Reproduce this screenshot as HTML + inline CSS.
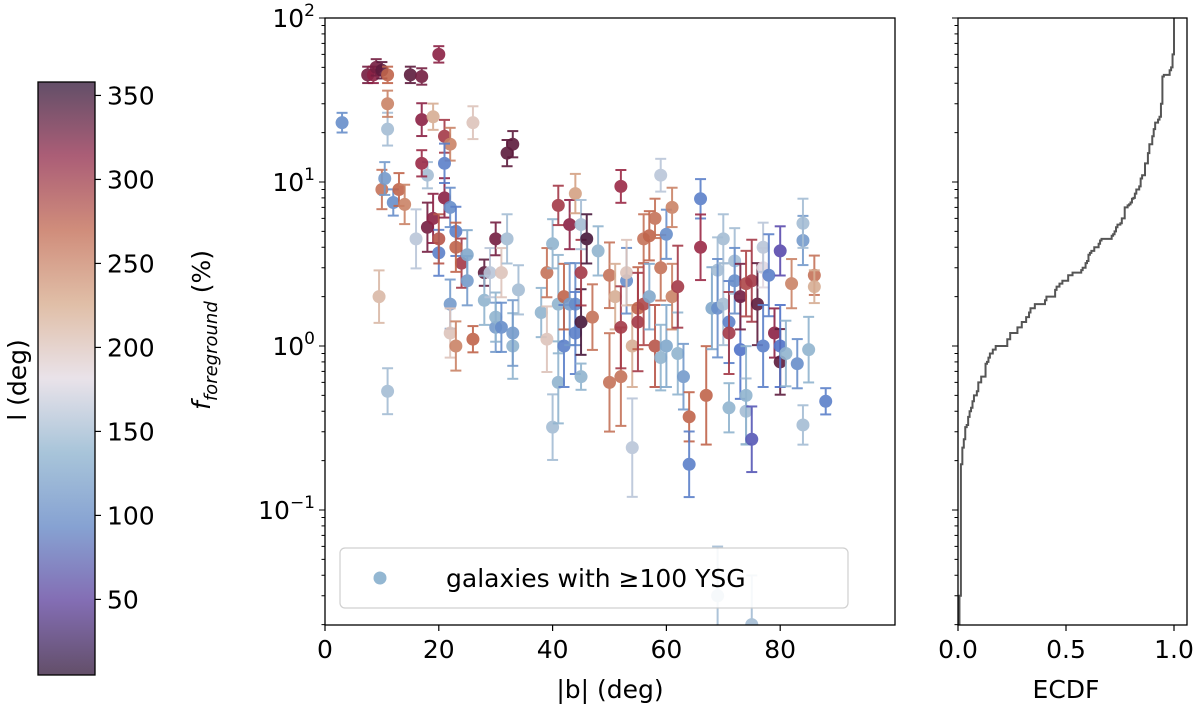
<!DOCTYPE html>
<html><head><meta charset="utf-8">
<style>
html,body{margin:0;padding:0;background:#fff;}
svg{display:block;font-family:"DejaVu Sans","Liberation Sans",sans-serif;}
</style></head>
<body>
<svg id="chart" width="1200" height="715" viewBox="0 0 1200 715" xmlns="http://www.w3.org/2000/svg">
<defs>
<linearGradient id="cbgrad" x1="0" y1="1" x2="0" y2="0">
<stop offset="0" stop-color="#2f1437"/>
<stop offset="0.125" stop-color="#5a3d9b"/>
<stop offset="0.25" stop-color="#5e83c3"/>
<stop offset="0.375" stop-color="#8bb1cd"/>
<stop offset="0.5" stop-color="#e2d9e2"/>
<stop offset="0.625" stop-color="#d6a98a"/>
<stop offset="0.75" stop-color="#c0674f"/>
<stop offset="0.875" stop-color="#8f2849"/>
<stop offset="1" stop-color="#2f1436"/>
</linearGradient>
</defs>
<g id="layer"></g>
</svg>
<script>
// Data: |b| (deg), f_foreground (%), l (deg)
const bVals = [3,7.5,8.5,9,10,11,10,9.5,10.5,11,11,11,12,13,14,15,17,17,18,16,17,18,19,19,20,20,20,21,21,22,21,22,22,22,23,23,24,23,25,25,26,26,28,28,29,30,30,30,31,31,32,32,33,33,34,33,38,39,39,40,40,41,41,41,42,42,43,43,44,44,44,45,45,45,45,46,47,48,50,50,51,52,52,52,53,53,54,54,55,55,56,56,57,57,58,58,59,59,59,60,60,61,61,62,62,63,64,64,66,66,67,68,69,69,70,70,71,71,71,72,72,73,73,74,74,74,75,75,76,77,77,77,78,79,80,80,80,81,82,83,84,84,84,85,86,86,88,69,75];
const fVals = [23,45,45,50,48,45,9,2,10.5,21,30,0.53,7.5,9,7.3,45,44,24,11,4.5,13,5.3,25,6,60,3.7,4.5,8,19,17,13,7,1.8,1.2,1.0,5,3.2,4,2.5,3.6,1.1,23,2.8,1.9,2.8,1.3,4.5,1.5,1.3,2.8,15,4.5,17,1.0,2.2,1.2,1.6,1.1,2.8,4.2,0.32,1.8,7.2,0.6,1.0,2.0,5.5,1.8,8.5,1.8,1.2,1.4,2.8,5.5,0.65,4.5,1.5,3.8,2.7,0.6,2.0,9.4,0.65,1.3,2.5,2.8,1.0,0.24,1.7,1.4,1.8,4.5,4.7,2.0,6,1.0,3.0,11,0.85,1.0,4.8,7,2.0,0.9,2.3,0.65,0.37,0.19,7.9,4.0,0.5,1.7,2.9,1.7,4.5,1.8,1.4,1.2,0.42,3.3,2.5,0.95,2.0,0.4,0.5,2.4,0.27,2.5,1.8,1.0,3.0,4.0,2.7,1.2,3.8,0.8,1.0,0.9,2.4,0.78,4.4,5.6,0.33,0.95,2.7,2.3,0.46,0.03,0.02];
const lVals = [110,330,320,330,340,270,260,210,120,150,250,150,110,270,250,340,330,320,150,160,310,330,220,320,320,100,280,320,300,250,100,110,120,200,250,100,300,270,120,130,270,200,340,140,160,120,330,140,110,200,340,150,340,140,150,120,140,200,260,140,150,140,300,140,100,270,320,120,230,110,100,350,300,150,140,350,260,140,260,260,220,310,260,300,110,200,220,160,270,300,290,260,270,130,260,280,260,160,140,130,110,250,250,140,300,120,270,100,100,310,270,130,150,110,150,150,100,300,140,150,110,90,330,150,140,290,70,300,340,100,180,160,100,320,60,340,90,140,250,110,120,150,150,140,260,220,100,150,150];
const errDex = [0.06,0.05,0.05,0.05,0.05,0.05,0.12,0.16,0.1,0.1,0.08,0.14,0.08,0.1,0.12,0.05,0.05,0.1,0.08,0.18,0.08,0.15,0.08,0.15,0.05,0.14,0.15,0.12,0.1,0.1,0.12,0.12,0.15,0.15,0.15,0.15,0.15,0.15,0.15,0.15,0.08,0.1,0.08,0.15,0.15,0.15,0.1,0.15,0.15,0.15,0.08,0.15,0.08,0.2,0.15,0.2,0.15,0.2,0.15,0.15,0.2,0.3,0.12,0.25,0.25,0.2,0.15,0.25,0.12,0.25,0.25,0.2,0.2,0.15,0.08,0.15,0.2,0.15,0.2,0.3,0.2,0.1,0.3,0.25,0.2,0.2,0.25,0.3,0.25,0.3,0.25,0.15,0.15,0.2,0.12,0.25,0.2,0.1,0.2,0.25,0.15,0.12,0.2,0.25,0.25,0.2,0.15,0.2,0.12,0.2,0.3,0.25,0.2,0.3,0.15,0.25,0.25,0.25,0.15,0.2,0.2,0.3,0.2,0.2,0.3,0.2,0.2,0.25,0.25,0.25,0.12,0.15,0.25,0.15,0.15,0.2,0.25,0.2,0.15,0.15,0.15,0.15,0.12,0.2,0.12,0.1,0.08,0.3,0.3];
const xTicks = [0,20,40,60,80];
const yTickExps = [-1,0,1,2];
const cbTicks = [50,100,150,200,250,300,350];
const ecdfTicks = ["0.0","0.5","1.0"];

const NS = "http://www.w3.org/2000/svg";
const layer = document.getElementById('layer');
function mk(tag, attrs, parent){const e=document.createElementNS(NS,tag);for(const k in attrs)e.setAttribute(k,attrs[k]);(parent||layer).appendChild(e);return e;}
const FS=25;

const AX={l:325,r:895,t:18,b:625};
const xScale = v => 325 + v*5.69;
const yScale = v => 346 - Math.log10(v)*164;
const yMin = Math.pow(10,-(625-346)/164), yMax=100;

const stops=[[0,[47,20,55]],[45,[95,55,160]],[90,[80,115,200]],[135,[135,175,205]],[180,[226,217,226]],[225,[214,169,138]],[270,[192,100,75]],[315,[150,35,70]],[360,[47,20,54]]];
function cmap(l){for(let i=0;i<stops.length-1;i++){const a=stops[i],b=stops[i+1];if(l<=b[0]){const t=(l-a[0])/(b[0]-a[0]);const c=a[1].map((v,j)=>Math.round(v+(b[1][j]-v)*t));return `rgb(${c.join(',')})`;}}return 'rgb(47,20,54)';}

const cp=mk('clipPath',{id:'clipMain'});mk('rect',{x:AX.l,y:AX.t,width:AX.r-AX.l,height:AX.b-AX.t},cp);
const pts=mk('g',{'clip-path':'url(#clipMain)'});


for(let i=0;i<bVals.length;i++){
  const x=xScale(bVals[i]), y=yScale(fVals[i]);
  const y1=yScale(fVals[i]*Math.pow(10,errDex[i])), y2=yScale(fVals[i]/Math.pow(10,errDex[i]));
  const col=cmap(lVals[i]);
  const g=mk('g',{opacity:0.9},pts);
  
  
  mk('line',{x1:x,x2:x,y1:y1,y2:y2,stroke:col,'stroke-width':2},g);
  mk('line',{x1:x-5.5,x2:x+5.5,y1:y1,y2:y1,stroke:col,'stroke-width':2},g);
  mk('line',{x1:x-5.5,x2:x+5.5,y1:y2,y2:y2,stroke:col,'stroke-width':2},g);
  mk('circle',{cx:x,cy:y,r:6.5,fill:col},g);
}
const frame=mk('rect',{x:AX.l,y:AX.t,width:AX.r-AX.l,height:AX.b-AX.t,fill:'none',stroke:'#000','stroke-width':1.3});


xTicks.forEach(v=>{const x=xScale(v);mk('line',{x1:x,x2:x,y1:AX.b,y2:AX.b+6,stroke:'#000','stroke-width':1.2});
 const t=mk('text',{x:x,y:AX.b+33,'text-anchor':'middle','font-size':FS});t.textContent=v;
 
 });
const xt=mk('text',{x:610,y:698,'text-anchor':'middle','font-size':FS});xt.textContent='|b| (deg)';


function yTicks(left){
 for(let e=-2;e<=1;e++)for(let m=1;m<10;m++){const v=m*Math.pow(10,e);if(v<yMin||v>yMax)continue;const y=yScale(v);
  mk('line',{x1:left,x2:left-(m===1?6:3.5),y1:y,y2:y,stroke:'#000','stroke-width':1});}
 mk('line',{x1:left,x2:left-6,y1:yScale(100),y2:yScale(100),stroke:'#000','stroke-width':1});
}
yTicks(AX.l);
yTickExps.forEach(e=>{const y=yScale(Math.pow(10,e));
 const t=mk('text',{x:AX.l-10,y:y+9,'text-anchor':'end','font-size':FS});
 
 
 t.appendChild(document.createTextNode('10'));
 const s=mk('tspan',{dy:-11,'font-size':17},t);s.textContent=e<0?'\u2212'+Math.abs(e):String(e);});
const yl=mk('text',{x:0,y:0,'font-size':FS,transform:'translate(210,330) rotate(-90)','text-anchor':'middle'});


const it=mk('tspan',{'font-style':'italic'},yl);it.textContent='f';
const sub=mk('tspan',{'font-style':'italic','font-size':18,dy:7},yl);sub.textContent='foreground';
const pc=mk('tspan',{dy:-7},yl);pc.textContent=' (%)';

const lg=mk('g',{});


mk('rect',{x:340,y:548,width:508,height:60,rx:5,fill:'#fff',stroke:'#ccc','stroke-width':1.2,opacity:0.9},lg);
mk('circle',{cx:380,cy:578,r:6.5,fill:cmap(135),opacity:0.9},lg);
const lt=mk('text',{x:446,y:587,'font-size':FS},lg);lt.textContent='galaxies with \u2265100 YSG';

const EX={l:958,r:1187};
const ex=v=>958+v*216;
const sorted=fVals.slice().sort((a,b)=>a-b);
const n=sorted.length;
let d=`M${ex(0)},${AX.b}`;
for(let i=0;i<n;i++){const yv=Math.max(AX.t,Math.min(AX.b,yScale(sorted[i])));d+=` L${ex(i/n)},${yv} L${ex((i+1)/n)},${yv}`;}
d+=` L${ex(1)},${AX.t}`;
const ecp=mk('clipPath',{id:'clipE'});mk('rect',{x:EX.l,y:AX.t,width:EX.r-EX.l,height:AX.b-AX.t},ecp);
const step=mk('path',{d:d,fill:'none',stroke:'#555','stroke-width':2,'clip-path':'url(#clipE)'});


const ef=mk('rect',{x:EX.l,y:AX.t,width:EX.r-EX.l,height:AX.b-AX.t,fill:'none',stroke:'#000','stroke-width':1.3});


yTicks(EX.l);
ecdfTicks.forEach(s=>{const x=ex(parseFloat(s));mk('line',{x1:x,x2:x,y1:AX.b,y2:AX.b+6,stroke:'#000','stroke-width':1.2});
 const t=mk('text',{x:x,y:AX.b+33,'text-anchor':'middle','font-size':FS});t.textContent=s;
 
 });
const et=mk('text',{x:1066,y:698,'text-anchor':'middle','font-size':FS});et.textContent='ECDF';



const CB={l:38,r:95,t:82,b:675,vmin:5,vmax:358};
const cy=v=>CB.b-(v-CB.vmin)/(CB.vmax-CB.vmin)*(CB.b-CB.t);
const cbr=mk('rect',{x:CB.l,y:CB.t,width:CB.r-CB.l,height:CB.b-CB.t,fill:'url(#cbgrad)',opacity:0.75,stroke:'none'});


mk('rect',{x:CB.l,y:CB.t,width:CB.r-CB.l,height:CB.b-CB.t,fill:'none',stroke:'#000','stroke-width':1.3});
cbTicks.forEach(v=>{const y=cy(v);mk('line',{x1:CB.r,x2:CB.r+6,y1:y,y2:y,stroke:'#000','stroke-width':1.2});
 const t=mk('text',{x:CB.r+12,y:y+9,'font-size':FS});t.textContent=v;
 
 });
const cl=mk('text',{x:0,y:0,'font-size':FS,transform:'translate(26,380) rotate(-90)','text-anchor':'middle'});cl.textContent='l (deg)';


</script>
</body></html>
